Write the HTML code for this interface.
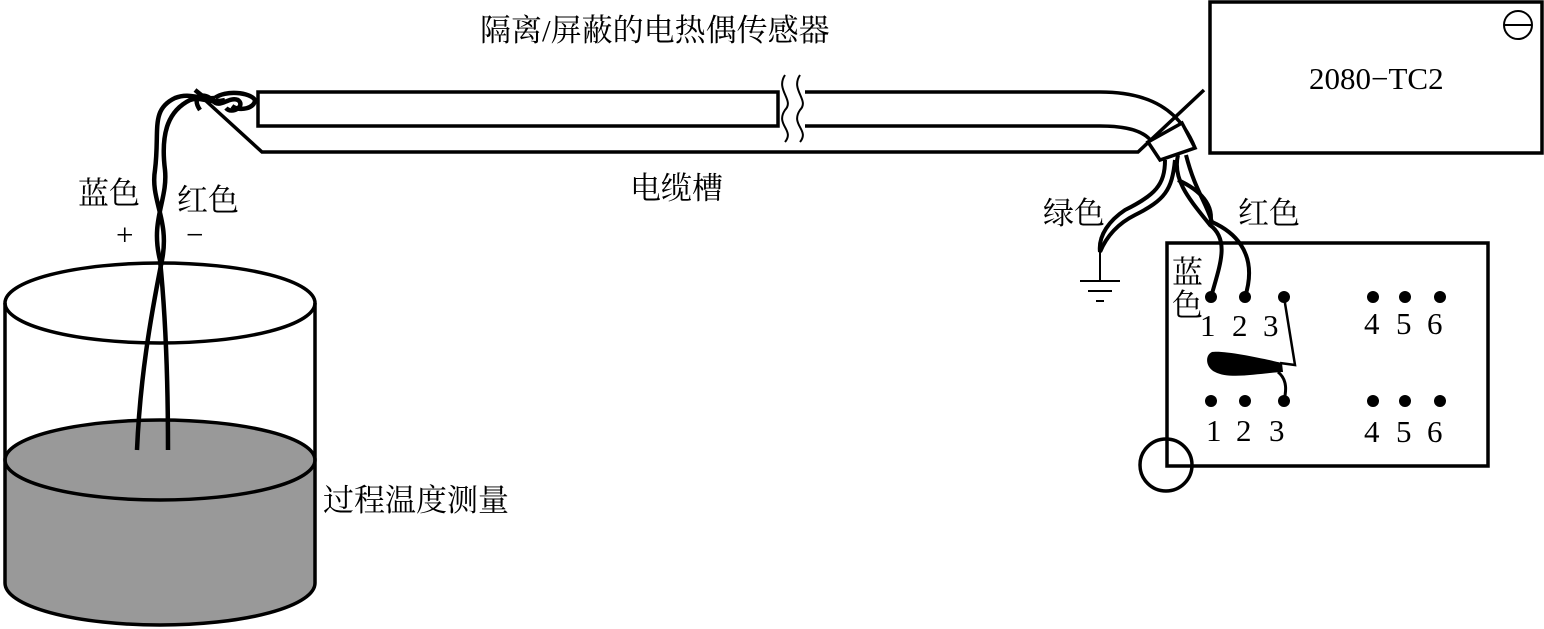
<!DOCTYPE html>
<html><head><meta charset="utf-8"><style>
html,body{margin:0;padding:0;background:#fff;}
svg{display:block;}
text{font-family:"Liberation Serif","Noto Serif CJK SC","Noto Sans CJK SC",serif;fill:#000;}
</style></head><body>
<svg width="1544" height="629" viewBox="0 0 1544 629" xmlns="http://www.w3.org/2000/svg">
<g fill="none" stroke="#000" stroke-width="3.5">
<path d="M5,460 L5,583 A155,42 0 0 0 315,583 L315,460 Z" fill="#999" stroke="none"/>
<ellipse cx="160" cy="460" rx="155" ry="40" fill="#999"/>
<ellipse cx="160" cy="303" rx="155" ry="40"/>
<line x1="5" y1="303" x2="5" y2="583"/>
<line x1="315" y1="303" x2="315" y2="583"/>
<path d="M5,583 A155,42 0 0 0 315,583"/>
<g stroke-width="4.5">
<path d="M137,450 C140,380 150,320 162,260 C170,220 150,200 155,170 C160,130 150,110 175,98 C190,92 200,100 215,98"/>
<path d="M168,450 C168,380 166,320 160,260 C150,220 168,200 165,170 C160,130 170,110 190,100 C200,96 210,104 225,100"/>
<path d="M200,110 C190,95 205,92 212,100 C220,110 228,96 238,100 C246,106 232,115 226,108 M215,98 C225,90 250,92 255,100 C255,108 240,112 232,106"/>
<line x1="195" y1="90" x2="210" y2="102"/>
</g>
<rect x="258" y="92" width="520" height="34"/>
<line x1="805" y1="92" x2="1100" y2="92"/>
<line x1="805" y1="126" x2="1100" y2="126"/>
<path d="M1100,92 C1150,92 1180,110 1195,148"/>
<path d="M1100,126 C1130,126 1145,132 1152,142"/>
<path d="M205,100 L262,152 L1138,152 L1204,90"/>
<path d="M785,75 C775,90 795,100 785,110 C775,125 795,130 785,142" stroke-width="2"/>
<path d="M800,75 C790,90 810,100 800,110 C790,125 810,130 800,142" stroke-width="2"/>
<path d="M1148,142 L1182,123 L1195,148 L1160,160 Z" fill="#fff"/>
<g stroke-width="4">
<path d="M1165,160 C1165,185 1155,195 1125,210 C1110,220 1098,235 1100,252"/>
<path d="M1175,160 C1172,190 1165,200 1135,215 C1115,225 1105,240 1100,252"/>
<path d="M1178,155 C1172,180 1190,200 1210,225 C1230,240 1220,265 1211,297"/>
<path d="M1186,155 C1195,190 1205,200 1212,222 C1230,230 1260,250 1245,297"/>
<path d="M1178,180 C1200,190 1215,205 1210,225"/>
</g>
<line x1="1100" y1="252" x2="1100" y2="280" stroke-width="2"/>
<line x1="1080" y1="281" x2="1120" y2="281" stroke-width="2"/>
<line x1="1088" y1="291" x2="1112" y2="291" stroke-width="2"/>
<line x1="1096" y1="301" x2="1104" y2="301" stroke-width="2"/>
<rect x="1210" y="2" width="332" height="151"/>
<circle cx="1518" cy="25" r="14" stroke-width="2"/>
<line x1="1504" y1="25" x2="1532" y2="25" stroke-width="2"/>
<rect x="1167" y="243" width="321" height="223"/>
<circle cx="1166" cy="465" r="26"/>
<path d="M1284,297 L1295,365 L1280,363" stroke-width="2.5"/>
<path d="M1278,372 C1288,380 1286,392 1284,401" stroke-width="3"/>
</g>
<path d="M1212,352 C1225,350 1270,360 1282,363 L1283,372 C1260,373 1230,380 1215,372 C1205,367 1205,355 1212,352 Z" fill="#000"/>
<g fill="#000">
<circle cx="1211" cy="297" r="6"/><circle cx="1245" cy="297" r="6"/><circle cx="1284" cy="297" r="6"/>
<circle cx="1373" cy="297" r="6"/><circle cx="1405" cy="297" r="6"/><circle cx="1440" cy="297" r="6"/>
<circle cx="1211" cy="401" r="6"/><circle cx="1245" cy="401" r="6"/><circle cx="1284" cy="401" r="6"/>
<circle cx="1373" cy="401" r="6"/><circle cx="1405" cy="401" r="6"/><circle cx="1440" cy="401" r="6"/>
</g>
<g font-size="31">
<text x="480" y="41">隔离/屏蔽的电热偶传感器</text>
<text x="630" y="199">电缆槽</text>
<text x="78" y="204">蓝色</text>
<text x="177" y="211">红色</text>
<text x="116" y="245">+</text>
<text x="186" y="245">−</text>
<text x="323" y="511">过程温度测量</text>
<text x="1043" y="224">绿色</text>
<text x="1238" y="224">红色</text>
<text x="1172" y="283">蓝</text>
<text x="1172" y="316">色</text>
<text x="1309" y="89">2080−TC2</text>
<text x="1200" y="336">1</text><text x="1232" y="336">2</text><text x="1263" y="336">3</text>
<text x="1364" y="334">4</text><text x="1396" y="334">5</text><text x="1427" y="334">6</text>
<text x="1206" y="441">1</text><text x="1236" y="441">2</text><text x="1269" y="441">3</text>
<text x="1364" y="442">4</text><text x="1396" y="442">5</text><text x="1427" y="442">6</text>
</g>
</svg>
</body></html>
